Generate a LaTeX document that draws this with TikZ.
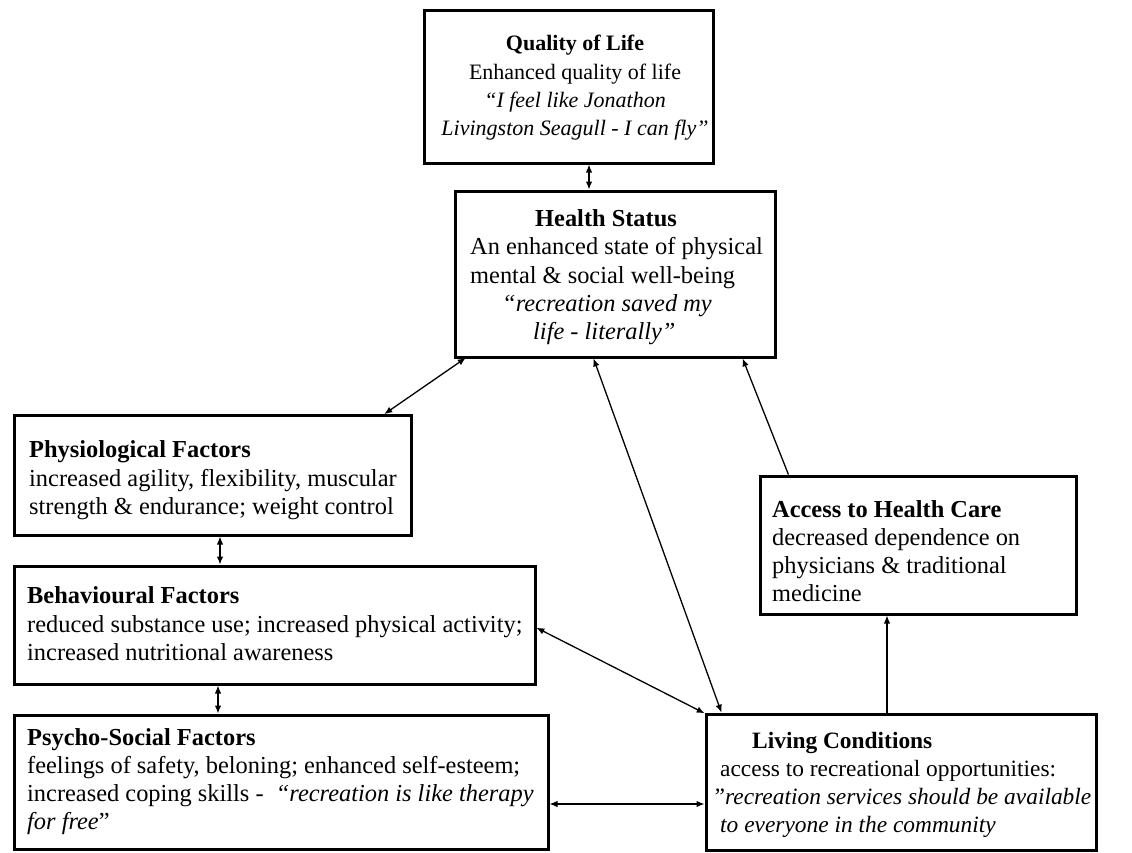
\documentclass[tikz,border=0pt]{standalone}
\usepackage{fontspec}
\setmainfont{Liberation Serif}
\usetikzlibrary{arrows.meta,calc}
\tikzset{
  box/.style={draw, line width=3pt, inner sep=0pt, outer sep=0pt, anchor=north west},
  tl/.style={inner sep=0pt, anchor=base west, font=\fontsize{24.4}{28}\selectfont},
  tls/.style={inner sep=0pt, anchor=base west, font=\fontsize{23.4}{28}\selectfont},
  tc/.style={inner sep=0pt, anchor=base, font=\fontsize{22}{28}\selectfont},
  conn/.style={line width=1.3pt, {Latex[length=8pt,width=6.5pt]}-{Latex[length=8pt,width=6.5pt]}, shorten <=1.5pt, shorten >=1.5pt},
  conn1/.style={line width=1.3pt, -{Latex[length=8pt,width=6.5pt]}, shorten <=1.5pt, shorten >=1.5pt}
}
\begin{document}
\begin{tikzpicture}[x=1pt,y=-1pt]
\useasboundingbox (0,0) rectangle (1132,852);
\fill[white] (0,0) rectangle (1132,852);
% boxes
\node[box, minimum width=289pt, minimum height=153pt] (qol) at (424,10) {};
\node[box, minimum width=320pt, minimum height=166pt] (hs) at (455,191) {};
\node[box, minimum width=397pt, minimum height=120pt] (phys) at (14,415) {};
\node[box, minimum width=521pt, minimum height=118pt] (behav) at (14,566) {};
\node[box, minimum width=534pt, minimum height=134pt] (psy) at (14,715) {};
\node[box, minimum width=316pt, minimum height=138pt] (acc) at (760,476) {};
\node[box, minimum width=390pt, minimum height=136pt] (liv) at (706,714) {};
% Quality of Life
\node[tc] (qolA) at (575,50) {\textbf{Quality of Life}};
\node[tc] (qolB) at (575,79) {Enhanced quality of life};
\node[tc] (qolC) at (575,107) {\textit{``I feel like Jonathon}};
\node[tc] (qolD) at (575,135) {\textit{Livingston Seagull - I can fly''}};
% Health Status
\node[tl] (hsA) at (535,226) {\textbf{Health Status}};
\node[tl] (hsB) at (470,254) {An enhanced state of physical};
\node[tl] (hsC) at (470,283) {mental \& social well-being};
\node[tl] (hsD) at (502,311) {\textit{``recreation saved my}};
\node[tl] (hsE) at (533,339) {\textit{life - literally''}};
% Physiological
\node[tl] (phA) at (29,457) {\textbf{Physiological Factors}};
\node[tl] (phB) at (29,486) {increased agility, flexibility, muscular};
\node[tl] (phC) at (29,514) {strength \& endurance; weight control};
% Behavioural
\node[tl] (beA) at (27,603) {\textbf{Behavioural Factors}};
\node[tl] (beB) at (27,632) {reduced substance use; increased physical activity;};
\node[tl] (beC) at (27,660) {increased nutritional awareness};
% Psycho-Social
\node[tl] (psA) at (27,745) {\textbf{Psycho-Social Factors}};
\node[tl] (psB) at (27,773) {feelings of safety, beloning; enhanced self-esteem;};
\node[tl] (psC) at (27,801) {increased coping skills -\ \ \textit{``recreation is like therapy}};
\node[tl] (psD) at (27,829) {\textit{for free}''};
% Access to Health Care
\node[tl] (acA) at (772,517) {\textbf{Access to Health Care}};
\node[tl] (acB) at (772,545) {decreased dependence on};
\node[tl] (acC) at (772,573) {physicians \& traditional};
\node[tl] (acD) at (772,601) {medicine};
% Living Conditions
\node[tls] (lvA) at (752,748) {\textbf{Living Conditions}};
\node[tls] (lvB) at (720,776) {access to recreational opportunities:};
\node[tls] (lvC) at (712,804) {\textit{''recreation services should be available}};
\node[tls] (lvD) at (720,832) {\textit{to everyone in the community}};
% connectors
\draw[conn] (589,0 |- qol.south) -- (589,0 |- hs.north);
\draw[conn] (467,0 |- hs.south) -- (383,0 |- phys.north);
\draw[conn] (220,0 |- phys.south) -- (220,0 |- behav.north);
\draw[conn] (218,0 |- behav.south) -- (218,0 |- psy.north);
\draw[conn] (behav.east |- 0,627) -- (liv.north west);
\draw[conn] (593,0 |- hs.south) -- (722,0 |- liv.north);
\draw[conn1] (789,0 |- acc.north) -- (742,0 |- hs.south);
\draw[conn1] (887,0 |- liv.north) -- (887,0 |- acc.south);
\draw[conn] (psy.east |- 0,804) -- (liv.west |- 0,804);
\end{tikzpicture}
\end{document}
